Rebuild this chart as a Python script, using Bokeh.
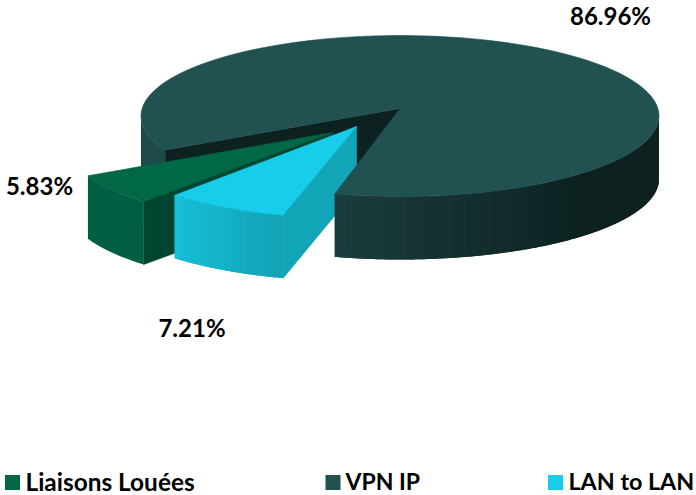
import numpy as np
from bokeh.plotting import figure
from bokeh.models import Range1d
from bokeh.core.properties import value
from bokeh.embed import file_html
from bokeh.resources import INLINE

categories = ["Liaisons Louées", "VPN IP", "LAN to LAN"]
values = [5.83, 86.96, 7.21]
top_colors = ["#006747", "#215151", "#17cde9"]
legend_sizes = ["24.4px", "23px", "23.3px"]

# Perspective disc: R = half width, A = depth scale, B = perspective strength
R, A, B, DEPTH = 257.9, 79.8, 0.0932, 63
FONT = value("Lato")

W, H = 696, 495
p = figure(width=W, height=H, x_range=Range1d(0, W), y_range=Range1d(H, 0),
           output_backend="svg", toolbar_location=None, min_border=0,
           outline_line_color=None, background_fill_color="white")
p.axis.visible = False
p.grid.visible = False


def hexmix(a, b, t):
    ca = [int(a[i:i+2], 16) for i in (1, 3, 5)]
    cb = [int(b[i:i+2], 16) for i in (1, 3, 5)]
    return "#%02x%02x%02x" % tuple(round(x + (y - x) * t) for x, y in zip(ca, cb))


def rim(b, cx, cy):
    """Rim point(s) at clockwise bearing b (degrees from top), in perspective."""
    r = np.radians(b)
    u, v = np.sin(r), -np.cos(r)
    w = 1 - B * v
    return cx + R * u / w, cy + A * v / w


def poly(xs, ys, color, lw=0.6):
    p.patch(list(xs), list(ys), fill_color=color, line_color=color, line_width=lw)


def side(b0, b1, cx, cy, c0, c1, n=24, taper=None):
    edges = np.linspace(b0, b1, n + 1)
    for i in range(n):
        bs = np.linspace(edges[i], edges[-1] if i == n - 1 else edges[i + 2], 10)
        x, y = rim(bs, cx, cy)
        t = taper(i / max(n - 1, 1)) if taper else i / max(n - 1, 1)
        poly(np.r_[x, x[::-1]], np.r_[y, y[::-1] + DEPTH], hexmix(c0, c1, t), lw=0)


def wedge(b0, b1, ax, ay, cx, cy, color):
    xs, ys = rim(np.linspace(b0, b1, 120), cx, cy)
    poly(np.r_[ax, xs], np.r_[ay, ys], color)


# Bearings come from the values; each slice keeps its share of the circle
vpn_end = 193.3 + 360
vpn_start = vpn_end - values[1] * 3.6
apex_x, apex_y = 399.5, 108

# VPN left outer wall and the dark cut wall behind the gap
side(vpn_start, 265, apex_x, apex_y, "#1f4a4a", "#204c4c", n=1)
xa, ya = rim(vpn_start, apex_x, apex_y)
poly([apex_x, xa, xa, apex_x], [apex_y, ya, ya + DEPTH, apex_y + DEPTH], "#0c2120")

# LAN slice bearings, then Liaisons following it
c0 = 195.0
c1 = c0 + values[2] * 3.6
l0 = c1 + 0.3
l1 = l0 + values[0] * 3.6

# Liaisons Louées slice (pulled out)
lx, ly = 332, 132
lrx, lry = lx - 6, ly + 4.5
lxa, lya = rim(l0, lrx, lry)
poly([lx, lxa, lxa, lx], [ly, lya, lya + DEPTH, ly + DEPTH], "#00452f")
side(l0, l1, lrx, lry, "#005f43", "#005f43", n=1)
wedge(l0, l1, lx, ly, lrx, lry, top_colors[0])

# LAN to LAN slice (pulled out)
cx2, cy2 = 356, 126
crx, cry = cx2, cy2 + 4
cxa, cya = rim(c0, crx, cry)
poly([cx2, cxa, cxa, cx2], [cy2, cya, cya + DEPTH, cy2 + DEPTH], "#12a5b8")
side(c0, c1, crx, cry, "#12a3b7", "#17bfd7", n=16)
wedge(c0, c1, cx2, cy2, crx, cry, top_colors[2])

# VPN IP front wall and top face
side(95, vpn_end - 360, apex_x, apex_y, "#0c2120", "#1b3c3c", n=40,
     taper=lambda t: max(0.0, (t - 0.45) / 0.55))
wedge(vpn_start, vpn_end, apex_x, apex_y, apex_x, apex_y, top_colors[1])

# Percentage labels
label_x = [39, 610, 191.5]
label_y = [185, 15, 327]
p.text(label_x, label_y, text=[f"{v:.2f}%" for v in values],
       text_font=FONT, text_font_style="bold", text_font_size="24px",
       text_color="#000000", text_align="center", text_baseline="middle")

# Legend
swatch_x = [12, 332.5, 555]
text_x = [25, 345, 568]
p.rect(swatch_x, [482] * 3, width=15, height=15, fill_color=top_colors, line_color=None)
for tx, name, size in zip(text_x, categories, legend_sizes):
    p.text([tx], [480.5], text=[name], text_font=FONT, text_font_style="bold",
           text_font_size=size, text_color="#000000", text_align="left", text_baseline="middle")

open("out.html", "w").write(file_html(p, INLINE))
